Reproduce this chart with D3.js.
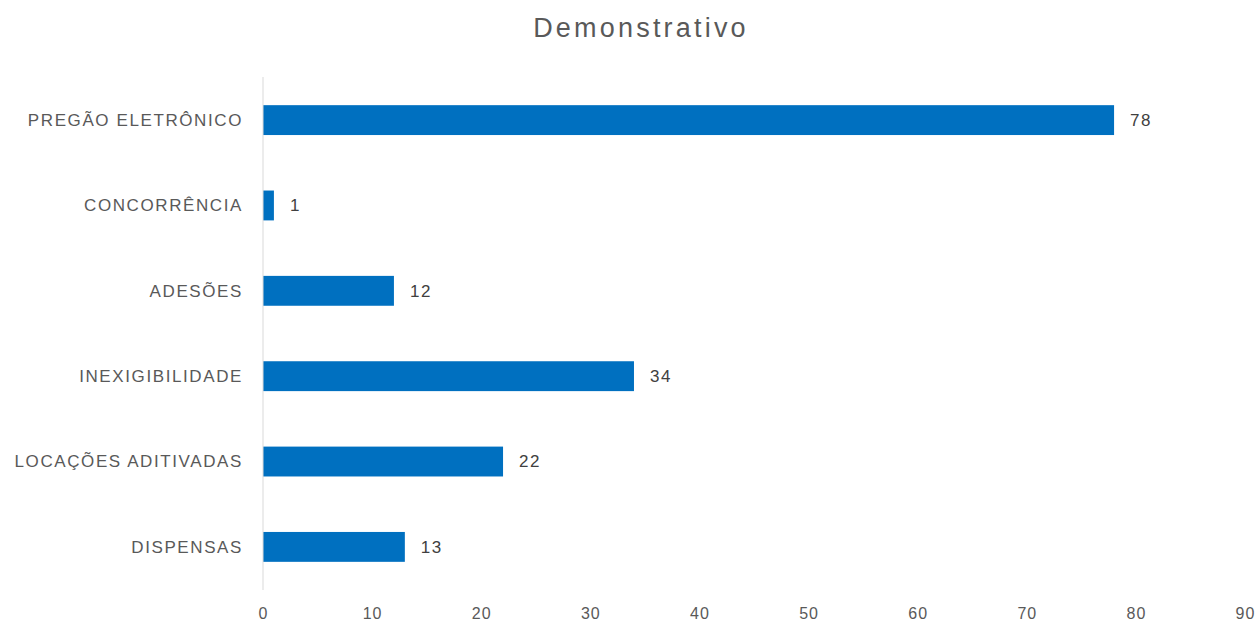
<!DOCTYPE html>
<html>
<head>
<meta charset="utf-8">
<script src="https://cdn.jsdelivr.net/npm/d3@7"></script>
<style>
  html, body { margin: 0; padding: 0; background: #fff; }
  svg text { font-family: "Liberation Sans", Arial, sans-serif; }
</style>
</head>
<body>
<svg id="chart" width="1258" height="625"></svg>
<script>
const categories = ["PREGÃO ELETRÔNICO", "CONCORRÊNCIA", "ADESÕES", "INEXIGIBILIDADE", "LOCAÇÕES ADITIVADAS", "DISPENSAS"];
const values = [78, 1, 12, 34, 22, 13];
const xTicks = [0, 10, 20, 30, 40, 50, 60, 70, 80, 90];
const title = "Demonstrativo";

const svg = d3.select("#chart");
const plotLeft = 263, plotRight = 1245, plotTop = 77, plotBottom = 590;

const x = d3.scaleLinear().domain([0, 90]).range([plotLeft, plotRight]);
const y = d3.scaleBand().domain(categories).range([plotTop, plotBottom]).paddingInner(0.65).paddingOuter(0.33);

// title
svg.append("text")
  .attr("x", 641).attr("y", 37)
  .attr("text-anchor", "middle")
  .attr("font-size", 27)
  .attr("letter-spacing", 3.2)
  .attr("fill", "#595959")
  .text(title);

// bars
svg.append("g").selectAll("rect")
  .data(categories)
  .join("rect")
  .attr("x", x(0))
  .attr("y", d => y(d))
  .attr("width", (d, i) => x(values[i]) - x(0))
  .attr("height", y.bandwidth())
  .attr("fill", "#0070C0");

// vertical category axis line
svg.append("line")
  .attr("x1", x(0)).attr("x2", x(0))
  .attr("y1", plotTop).attr("y2", plotBottom)
  .attr("stroke", "#d9d9d9").attr("stroke-width", 1);

// category labels
svg.append("g").selectAll("text")
  .data(categories)
  .join("text")
  .attr("x", plotLeft - 20)
  .attr("y", d => y(d) + y.bandwidth() / 2)
  .attr("dy", "0.35em")
  .attr("text-anchor", "end")
  .attr("font-size", 17)
  .attr("letter-spacing", 1.6)
  .attr("fill", "#595959")
  .text(d => d);

// value labels
svg.append("g").selectAll("text")
  .data(categories)
  .join("text")
  .attr("x", (d, i) => x(values[i]) + 16)
  .attr("y", d => y(d) + y.bandwidth() / 2)
  .attr("dy", "0.35em")
  .attr("font-size", 17)
  .attr("letter-spacing", 1.5)
  .attr("fill", "#404040")
  .text((d, i) => values[i]);

// x axis tick labels
const xAxis = d3.axisBottom(x).tickValues(xTicks).tickSize(0).tickPadding(0);
const gx = svg.append("g").attr("transform", `translate(0,${plotBottom + 18})`).call(xAxis);
gx.select(".domain").remove();
gx.selectAll("text")
  .attr("font-size", 16)
  .attr("letter-spacing", 1)
  .attr("font-family", "Liberation Sans, Arial, sans-serif")
  .attr("fill", "#595959");
</script>
</body>
</html>
